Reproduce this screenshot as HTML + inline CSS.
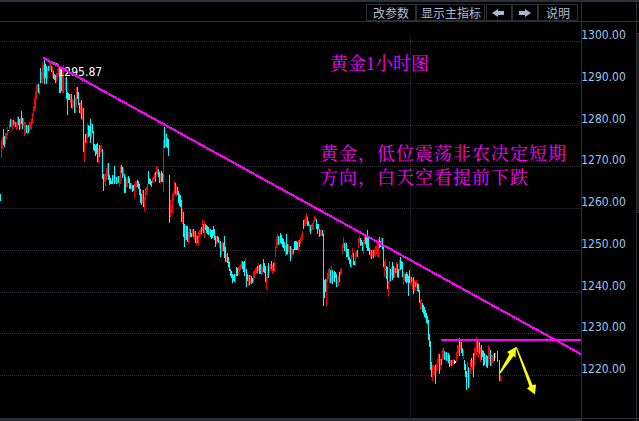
<!DOCTYPE html>
<html><head><meta charset="utf-8">
<style>
html,body{margin:0;padding:0;background:#000;}
body{width:639px;height:421px;overflow:hidden;position:relative;}
svg{position:absolute;left:0;top:0;display:block;}
.ax{font-family:"DejaVu Sans Condensed","DejaVu Sans",sans-serif;font-stretch:condensed;font-size:12px;fill:#9cc4ec;}
.btn{font-family:"Liberation Sans","Noto Sans CJK SC",sans-serif;font-size:12px;fill:#b0bcd8;}
.t1{font-family:"Liberation Serif","Noto Serif CJK SC",serif;font-size:18px;fill:#ff00ff;}
.t2{font-family:"Liberation Serif","Noto Serif CJK SC",serif;font-size:18px;letter-spacing:1px;fill:#ff00ff;}
.hl{font-family:"DejaVu Sans Condensed","DejaVu Sans",sans-serif;font-stretch:condensed;font-size:12px;fill:#ffffff;}
</style></head><body>
<svg width="639" height="421" viewBox="0 0 639 421">
<rect x="0" y="0" width="639" height="421" fill="#000"/>
<g shape-rendering="crispEdges">
<rect x="0" y="0" width="639" height="2" fill="#2d3037"/>
<rect x="0" y="21" width="639" height="1" fill="#2c2f35"/>
<rect x="581" y="2" width="1" height="419" fill="#2c2f35"/>
<rect x="636" y="2" width="1" height="419" fill="#2c2f35"/>
<rect x="637" y="33" width="2" height="180" fill="#2c2f35"/><rect x="637" y="34" width="2" height="178" fill="#1c1e1b"/>
<rect x="0" y="418" width="582" height="3" fill="#2b2e34"/>
<rect x="581" y="418" width="58" height="1" fill="#2c2f35"/>
<g fill="none" stroke="#2b2e34" stroke-width="1">
<rect x="366.5" y="4.5" width="49" height="16"/>
<rect x="416.5" y="4.5" width="68" height="16"/>
<rect x="486.5" y="4.5" width="25" height="16"/>
<rect x="512.5" y="4.5" width="25" height="16"/>
<rect x="538.5" y="4.5" width="39" height="16"/>
</g>
<line x1="0" y1="41.5" x2="581" y2="41.5" stroke="#2d3036" stroke-width="1" stroke-dasharray="1 1"/>
<line x1="0" y1="83.5" x2="581" y2="83.5" stroke="#2d3036" stroke-width="1" stroke-dasharray="1 1"/>
<line x1="0" y1="125.5" x2="581" y2="125.5" stroke="#2d3036" stroke-width="1" stroke-dasharray="1 1"/>
<line x1="0" y1="166.5" x2="581" y2="166.5" stroke="#2d3036" stroke-width="1" stroke-dasharray="1 1"/>
<line x1="0" y1="208.5" x2="581" y2="208.5" stroke="#2d3036" stroke-width="1" stroke-dasharray="1 1"/>
<line x1="0" y1="250.5" x2="581" y2="250.5" stroke="#2d3036" stroke-width="1" stroke-dasharray="1 1"/>
<line x1="0" y1="292.5" x2="581" y2="292.5" stroke="#2d3036" stroke-width="1" stroke-dasharray="1 1"/>
<line x1="0" y1="333.5" x2="581" y2="333.5" stroke="#2d3036" stroke-width="1" stroke-dasharray="1 1"/>
<line x1="0" y1="375.5" x2="581" y2="375.5" stroke="#2d3036" stroke-width="1" stroke-dasharray="1 1"/>
<line x1="410.5" y1="36" x2="410.5" y2="418" stroke="#2d3036" stroke-width="1" stroke-dasharray="1 1"/>

</g>
<text x="373" y="17.5" class="btn">改参数</text>
<text x="421" y="17.5" class="btn">显示主指标</text>
<text x="546" y="17.5" class="btn">说明</text>
<path d="M492 13 L498 9 L498 11 L504 11 L504 15 L498 15 L498 17 Z" fill="#a8b8d4"/>
<path d="M531 13 L525 9 L525 11 L519 11 L519 15 L525 15 L525 17 Z" fill="#a8b8d4"/>
<g shape-rendering="crispEdges">
<path fill="#ff0000" d="M1 140h1v18h-1zM2 137h1v12h-1zM5 133h1v11h-1zM6 133h1v6h-1zM7 127h1v8h-1zM9 121h1v9h-1zM11 119h1v8h-1zM12 120h1v10h-1zM14 121h1v5h-1zM16 122h1v8h-1zM17 116h1v13h-1zM20 118h1v11h-1zM23 118h1v8h-1zM24 122h1v14h-1zM25 122h1v12h-1zM27 125h1v9h-1zM29 122h1v9h-1zM30 122h1v8h-1zM31 119h1v10h-1zM32 113h1v11h-1zM33 106h1v8h-1zM34 98h1v13h-1zM35 92h1v16h-1zM36 85h1v14h-1zM37 84h1v8h-1zM39 88h1v7h-1zM41 72h1v11h-1zM42 62h1v21h-1zM43 65h1v14h-1zM47 68h1v11h-1zM49 65h1v6h-1zM50 62h1v8h-1zM52 67h1v10h-1zM56 73h1v9h-1zM57 69h1v10h-1zM58 68h1v7h-1zM62 68h1v25h-1zM63 65h1v28h-1zM65 77h1v13h-1zM70 94h1v9h-1zM72 99h1v10h-1zM73 100h1v7h-1zM75 98h1v15h-1zM76 87h1v20h-1zM80 102h1v12h-1zM82 107h1v13h-1zM84 140h1v22h-1zM86 133h1v10h-1zM87 123h1v15h-1zM91 124h1v14h-1zM98 148h1v15h-1zM100 146h1v7h-1zM101 145h1v7h-1zM104 174h1v8h-1zM105 174h1v12h-1zM106 168h1v12h-1zM107 163h1v13h-1zM113 175h1v8h-1zM115 176h1v8h-1zM117 176h1v8h-1zM119 176h1v11h-1zM120 166h1v18h-1zM123 167h1v9h-1zM126 179h1v8h-1zM127 177h1v10h-1zM131 183h1v6h-1zM134 184h1v14h-1zM135 181h1v6h-1zM136 181h1v7h-1zM142 190h1v13h-1zM144 197h1v14h-1zM145 188h1v12h-1zM146 187h1v8h-1zM147 184h1v7h-1zM152 178h1v5h-1zM153 177h1v6h-1zM154 173h1v7h-1zM156 166h1v9h-1zM157 167h1v7h-1zM160 173h1v10h-1zM163 140h1v52h-1zM165 133h1v14h-1zM170 200h1v17h-1zM171 205h1v8h-1zM172 194h1v19h-1zM173 191h1v10h-1zM174 181h1v14h-1zM176 186h1v10h-1zM182 209h1v15h-1zM185 225h1v15h-1zM188 232h1v11h-1zM189 228h1v10h-1zM192 229h1v7h-1zM194 231h1v9h-1zM196 235h1v10h-1zM198 232h1v13h-1zM199 230h1v8h-1zM200 229h1v6h-1zM202 220h1v10h-1zM204 221h1v17h-1zM209 229h1v6h-1zM216 236h1v8h-1zM219 240h1v8h-1zM221 243h1v12h-1zM222 242h1v10h-1zM226 254h1v8h-1zM235 274h1v9h-1zM238 267h1v8h-1zM239 266h1v6h-1zM240 264h1v6h-1zM241 261h1v7h-1zM245 258h1v14h-1zM248 275h1v11h-1zM250 275h1v8h-1zM253 271h1v11h-1zM254 270h1v8h-1zM255 268h1v7h-1zM256 267h1v7h-1zM258 263h1v7h-1zM261 265h1v10h-1zM262 267h1v7h-1zM266 276h1v13h-1zM267 266h1v12h-1zM269 266h1v7h-1zM270 264h1v7h-1zM272 265h1v9h-1zM274 262h1v10h-1zM275 246h1v11h-1zM276 237h1v11h-1zM277 234h1v11h-1zM279 237h1v7h-1zM285 245h1v11h-1zM288 244h1v8h-1zM289 246h1v8h-1zM291 248h1v10h-1zM292 249h1v6h-1zM298 240h1v11h-1zM300 237h1v7h-1zM301 234h1v7h-1zM302 231h1v9h-1zM304 219h1v7h-1zM305 216h1v10h-1zM306 213h1v11h-1zM309 224h1v8h-1zM311 224h1v7h-1zM312 223h1v7h-1zM313 221h1v9h-1zM314 216h1v6h-1zM315 217h1v4h-1zM320 230h1v6h-1zM321 229h1v7h-1zM326 279h1v27h-1zM327 273h1v9h-1zM328 269h1v10h-1zM329 268h1v15h-1zM331 266h1v17h-1zM333 272h1v9h-1zM337 278h1v9h-1zM338 276h1v10h-1zM340 269h1v6h-1zM341 268h1v6h-1zM342 244h1v10h-1zM343 237h1v11h-1zM345 242h1v10h-1zM351 255h1v13h-1zM352 248h1v9h-1zM355 252h1v14h-1zM356 251h1v6h-1zM358 238h1v10h-1zM359 236h1v7h-1zM363 240h1v14h-1zM364 236h1v9h-1zM370 249h1v9h-1zM372 250h1v7h-1zM374 249h1v7h-1zM375 246h1v11h-1zM376 246h1v8h-1zM377 243h1v14h-1zM378 239h1v18h-1zM381 238h1v9h-1zM384 261h1v16h-1zM385 259h1v12h-1zM388 281h1v15h-1zM389 261h1v22h-1zM391 267h1v8h-1zM394 267h1v11h-1zM396 262h1v11h-1zM399 260h1v11h-1zM403 272h1v13h-1zM404 273h1v7h-1zM410 276h1v9h-1zM412 279h1v10h-1zM414 280h1v11h-1zM416 280h1v7h-1zM420 300h1v9h-1zM421 299h1v10h-1zM432 365h1v16h-1zM433 365h1v9h-1zM434 366h1v9h-1zM436 364h1v8h-1zM437 359h1v11h-1zM438 354h1v9h-1zM440 359h1v11h-1zM442 349h1v11h-1zM443 348h1v11h-1zM445 352h1v8h-1zM447 353h1v8h-1zM450 360h1v6h-1zM452 360h1v5h-1zM453 359h1v5h-1zM456 352h1v10h-1zM457 345h1v12h-1zM458 345h1v8h-1zM460 342h1v7h-1zM463 350h1v9h-1zM467 362h1v16h-1zM469 368h1v19h-1zM470 360h1v14h-1zM472 360h1v10h-1zM474 348h1v18h-1zM475 346h1v7h-1zM476 337h1v18h-1zM478 343h1v14h-1zM480 347h1v15h-1zM485 354h1v8h-1zM488 345h1v20h-1zM489 347h1v12h-1zM491 355h1v11h-1zM492 355h1v8h-1zM493 354h1v7h-1zM495 353h1v5h-1zM500 375h1v6h-1z"/>
<path fill="#00ffff" d="M0 194h1v7h-1zM3 129h1v16h-1zM4 136h1v11h-1zM10 119h1v8h-1zM13 120h1v5h-1zM15 122h1v5h-1zM18 117h1v8h-1zM19 119h1v11h-1zM21 111h1v13h-1zM22 118h1v11h-1zM26 125h1v8h-1zM28 125h1v8h-1zM38 84h1v9h-1zM40 68h1v15h-1zM44 58h1v26h-1zM45 64h1v14h-1zM46 66h1v18h-1zM48 66h1v5h-1zM51 66h1v6h-1zM53 71h1v8h-1zM54 74h1v6h-1zM55 75h1v8h-1zM59 68h1v25h-1zM60 69h1v24h-1zM61 70h1v21h-1zM66 77h1v22h-1zM67 92h1v23h-1zM68 93h1v7h-1zM69 94h1v6h-1zM71 94h1v14h-1zM74 95h1v18h-1zM77 87h1v12h-1zM78 92h1v13h-1zM79 103h1v10h-1zM81 100h1v19h-1zM83 108h1v44h-1zM85 134h1v9h-1zM88 125h1v12h-1zM89 126h1v10h-1zM90 119h1v24h-1zM92 124h1v9h-1zM93 131h1v19h-1zM94 144h1v7h-1zM95 145h1v11h-1zM96 144h1v10h-1zM97 143h1v19h-1zM99 145h1v12h-1zM102 149h1v30h-1zM103 174h1v17h-1zM108 163h1v17h-1zM109 175h1v10h-1zM110 178h1v6h-1zM111 181h1v3h-1zM112 175h1v9h-1zM114 166h1v18h-1zM116 177h1v7h-1zM118 176h1v7h-1zM121 165h1v8h-1zM122 167h1v11h-1zM124 174h1v19h-1zM125 177h1v16h-1zM128 176h1v7h-1zM129 178h1v11h-1zM130 183h1v6h-1zM132 185h1v7h-1zM133 185h1v6h-1zM137 180h1v7h-1zM138 181h1v8h-1zM139 184h1v11h-1zM140 189h1v14h-1zM141 194h1v11h-1zM143 190h1v17h-1zM148 171h1v13h-1zM149 178h1v6h-1zM150 179h1v6h-1zM151 181h1v6h-1zM155 172h1v10h-1zM158 169h1v8h-1zM159 172h1v11h-1zM161 171h1v11h-1zM162 173h1v9h-1zM164 127h1v21h-1zM166 134h1v13h-1zM167 138h1v10h-1zM168 139h1v17h-1zM169 175h1v48h-1zM175 183h1v11h-1zM177 187h1v8h-1zM178 191h1v12h-1zM179 194h1v12h-1zM180 195h1v12h-1zM181 200h1v22h-1zM183 212h1v25h-1zM184 224h1v23h-1zM186 226h1v14h-1zM187 226h1v16h-1zM190 229h1v8h-1zM191 233h1v4h-1zM193 229h1v8h-1zM195 231h1v12h-1zM197 236h1v7h-1zM201 227h1v7h-1zM203 224h1v9h-1zM205 224h1v6h-1zM206 225h1v8h-1zM207 226h1v8h-1zM208 227h1v8h-1zM210 229h1v8h-1zM211 230h1v9h-1zM212 230h1v8h-1zM213 226h1v10h-1zM214 229h1v11h-1zM215 236h1v11h-1zM217 236h1v6h-1zM218 237h1v6h-1zM220 241h1v16h-1zM223 243h1v8h-1zM224 236h1v22h-1zM225 247h1v15h-1zM227 253h1v10h-1zM228 257h1v10h-1zM229 262h1v9h-1zM230 269h1v7h-1zM231 271h1v7h-1zM232 274h1v9h-1zM233 275h1v6h-1zM234 274h1v8h-1zM236 267h1v9h-1zM237 268h1v8h-1zM242 261h1v8h-1zM243 262h1v10h-1zM244 261h1v15h-1zM246 269h1v18h-1zM247 274h1v7h-1zM249 275h1v10h-1zM251 276h1v8h-1zM252 278h1v5h-1zM257 266h1v7h-1zM259 265h1v9h-1zM260 264h1v10h-1zM263 259h1v13h-1zM264 263h1v10h-1zM265 266h1v16h-1zM268 263h1v15h-1zM271 261h1v8h-1zM273 263h1v8h-1zM278 236h1v9h-1zM280 233h1v10h-1zM281 235h1v9h-1zM282 238h1v9h-1zM283 239h1v9h-1zM284 242h1v9h-1zM286 234h1v21h-1zM287 244h1v10h-1zM290 246h1v15h-1zM293 249h1v5h-1zM294 241h1v9h-1zM295 241h1v9h-1zM296 241h1v9h-1zM297 242h1v8h-1zM299 240h1v7h-1zM303 220h1v9h-1zM307 217h1v9h-1zM308 221h1v5h-1zM310 225h1v9h-1zM316 219h1v10h-1zM317 224h1v10h-1zM318 224h1v5h-1zM319 229h1v8h-1zM322 230h1v6h-1zM323 234h1v72h-1zM324 280h1v18h-1zM325 279h1v13h-1zM330 270h1v13h-1zM332 270h1v14h-1zM334 271h1v11h-1zM335 272h1v6h-1zM336 274h1v13h-1zM339 272h1v10h-1zM344 243h1v8h-1zM346 243h1v14h-1zM347 249h1v8h-1zM348 249h1v11h-1zM349 257h1v7h-1zM350 259h1v8h-1zM353 253h1v12h-1zM354 261h1v4h-1zM357 250h1v7h-1zM360 238h1v8h-1zM361 240h1v5h-1zM362 242h1v9h-1zM365 236h1v8h-1zM366 236h1v12h-1zM367 230h1v21h-1zM368 236h1v15h-1zM369 248h1v7h-1zM371 250h1v9h-1zM373 250h1v8h-1zM379 237h1v11h-1zM380 241h1v6h-1zM382 238h1v11h-1zM383 246h1v21h-1zM386 266h1v13h-1zM387 267h1v22h-1zM390 269h1v12h-1zM392 262h1v18h-1zM393 266h1v12h-1zM395 268h1v5h-1zM397 264h1v13h-1zM398 269h1v9h-1zM400 257h1v13h-1zM401 261h1v8h-1zM402 262h1v15h-1zM405 274h1v8h-1zM406 272h1v11h-1zM407 274h1v8h-1zM408 276h1v20h-1zM409 270h1v13h-1zM411 277h1v5h-1zM413 277h1v17h-1zM415 282h1v5h-1zM417 283h1v8h-1zM418 284h1v8h-1zM419 290h1v13h-1zM422 303h1v9h-1zM423 305h1v9h-1zM424 307h1v10h-1zM425 310h1v8h-1zM426 313h1v10h-1zM427 316h1v8h-1zM428 320h1v20h-1zM429 334h1v13h-1zM430 341h1v29h-1zM431 362h1v15h-1zM435 365h1v19h-1zM439 354h1v20h-1zM441 359h1v6h-1zM444 351h1v9h-1zM446 352h1v9h-1zM448 353h1v10h-1zM449 355h1v12h-1zM451 360h1v6h-1zM459 338h1v18h-1zM461 342h1v11h-1zM462 348h1v8h-1zM464 360h1v10h-1zM465 364h1v13h-1zM466 371h1v19h-1zM468 367h1v21h-1zM471 358h1v9h-1zM473 353h1v24h-1zM477 340h1v12h-1zM479 342h1v12h-1zM481 345h1v15h-1zM482 350h1v7h-1zM483 351h1v15h-1zM484 353h1v12h-1zM486 355h1v12h-1zM487 356h1v12h-1zM490 350h1v16h-1zM497 351h1v11h-1zM499 360h1v21h-1z"/>
<path fill="#ffffff" d="M8 130h1v1h-1zM454 360h1v4h-1zM455 361h1v2h-1zM494 353h1v8h-1z"/>

</g>
<text x="581.2" y="38.5" class="ax">1300.00</text>
<text x="581.2" y="80.5" class="ax">1290.00</text>
<text x="581.2" y="122.5" class="ax">1280.00</text>
<text x="581.2" y="163.5" class="ax">1270.00</text>
<text x="581.2" y="205.5" class="ax">1260.00</text>
<text x="581.2" y="247.5" class="ax">1250.00</text>
<text x="581.2" y="289.5" class="ax">1240.00</text>
<text x="581.2" y="330.5" class="ax">1230.00</text>
<text x="581.2" y="372.5" class="ax">1220.00</text>

<line x1="52" y1="61.8" x2="58.5" y2="64.6" stroke="#fff" stroke-width="1"/>
<text x="57.5" y="75.5" class="hl">1295.87</text>
<g shape-rendering="crispEdges">
<line x1="43" y1="57.7" x2="581" y2="354.1" stroke="#ff00ff" stroke-width="2.15"/>
<rect x="441" y="339" width="140" height="2" fill="#ff00ff"/>
</g>
<path d="M499 373 L509.5 354 L507 352 L516 347 L515.5 357.5 L513.5 356 L500.5 373.5 Z" fill="#ffff00"/>
<path d="M515.5 347 L529.5 386.5 L527 388.5 L535 394.5 L536 384.5 L532.5 385 L517 347.5 Z" fill="#ffff00"/>
<text x="330" y="70" class="t1">黄金1小时图</text>
<text x="320" y="160" class="t2">黄金，低位震荡非农决定短期</text>
<text x="320" y="184" class="t2">方向，白天空看提前下跌</text>
</svg>
</body></html>
